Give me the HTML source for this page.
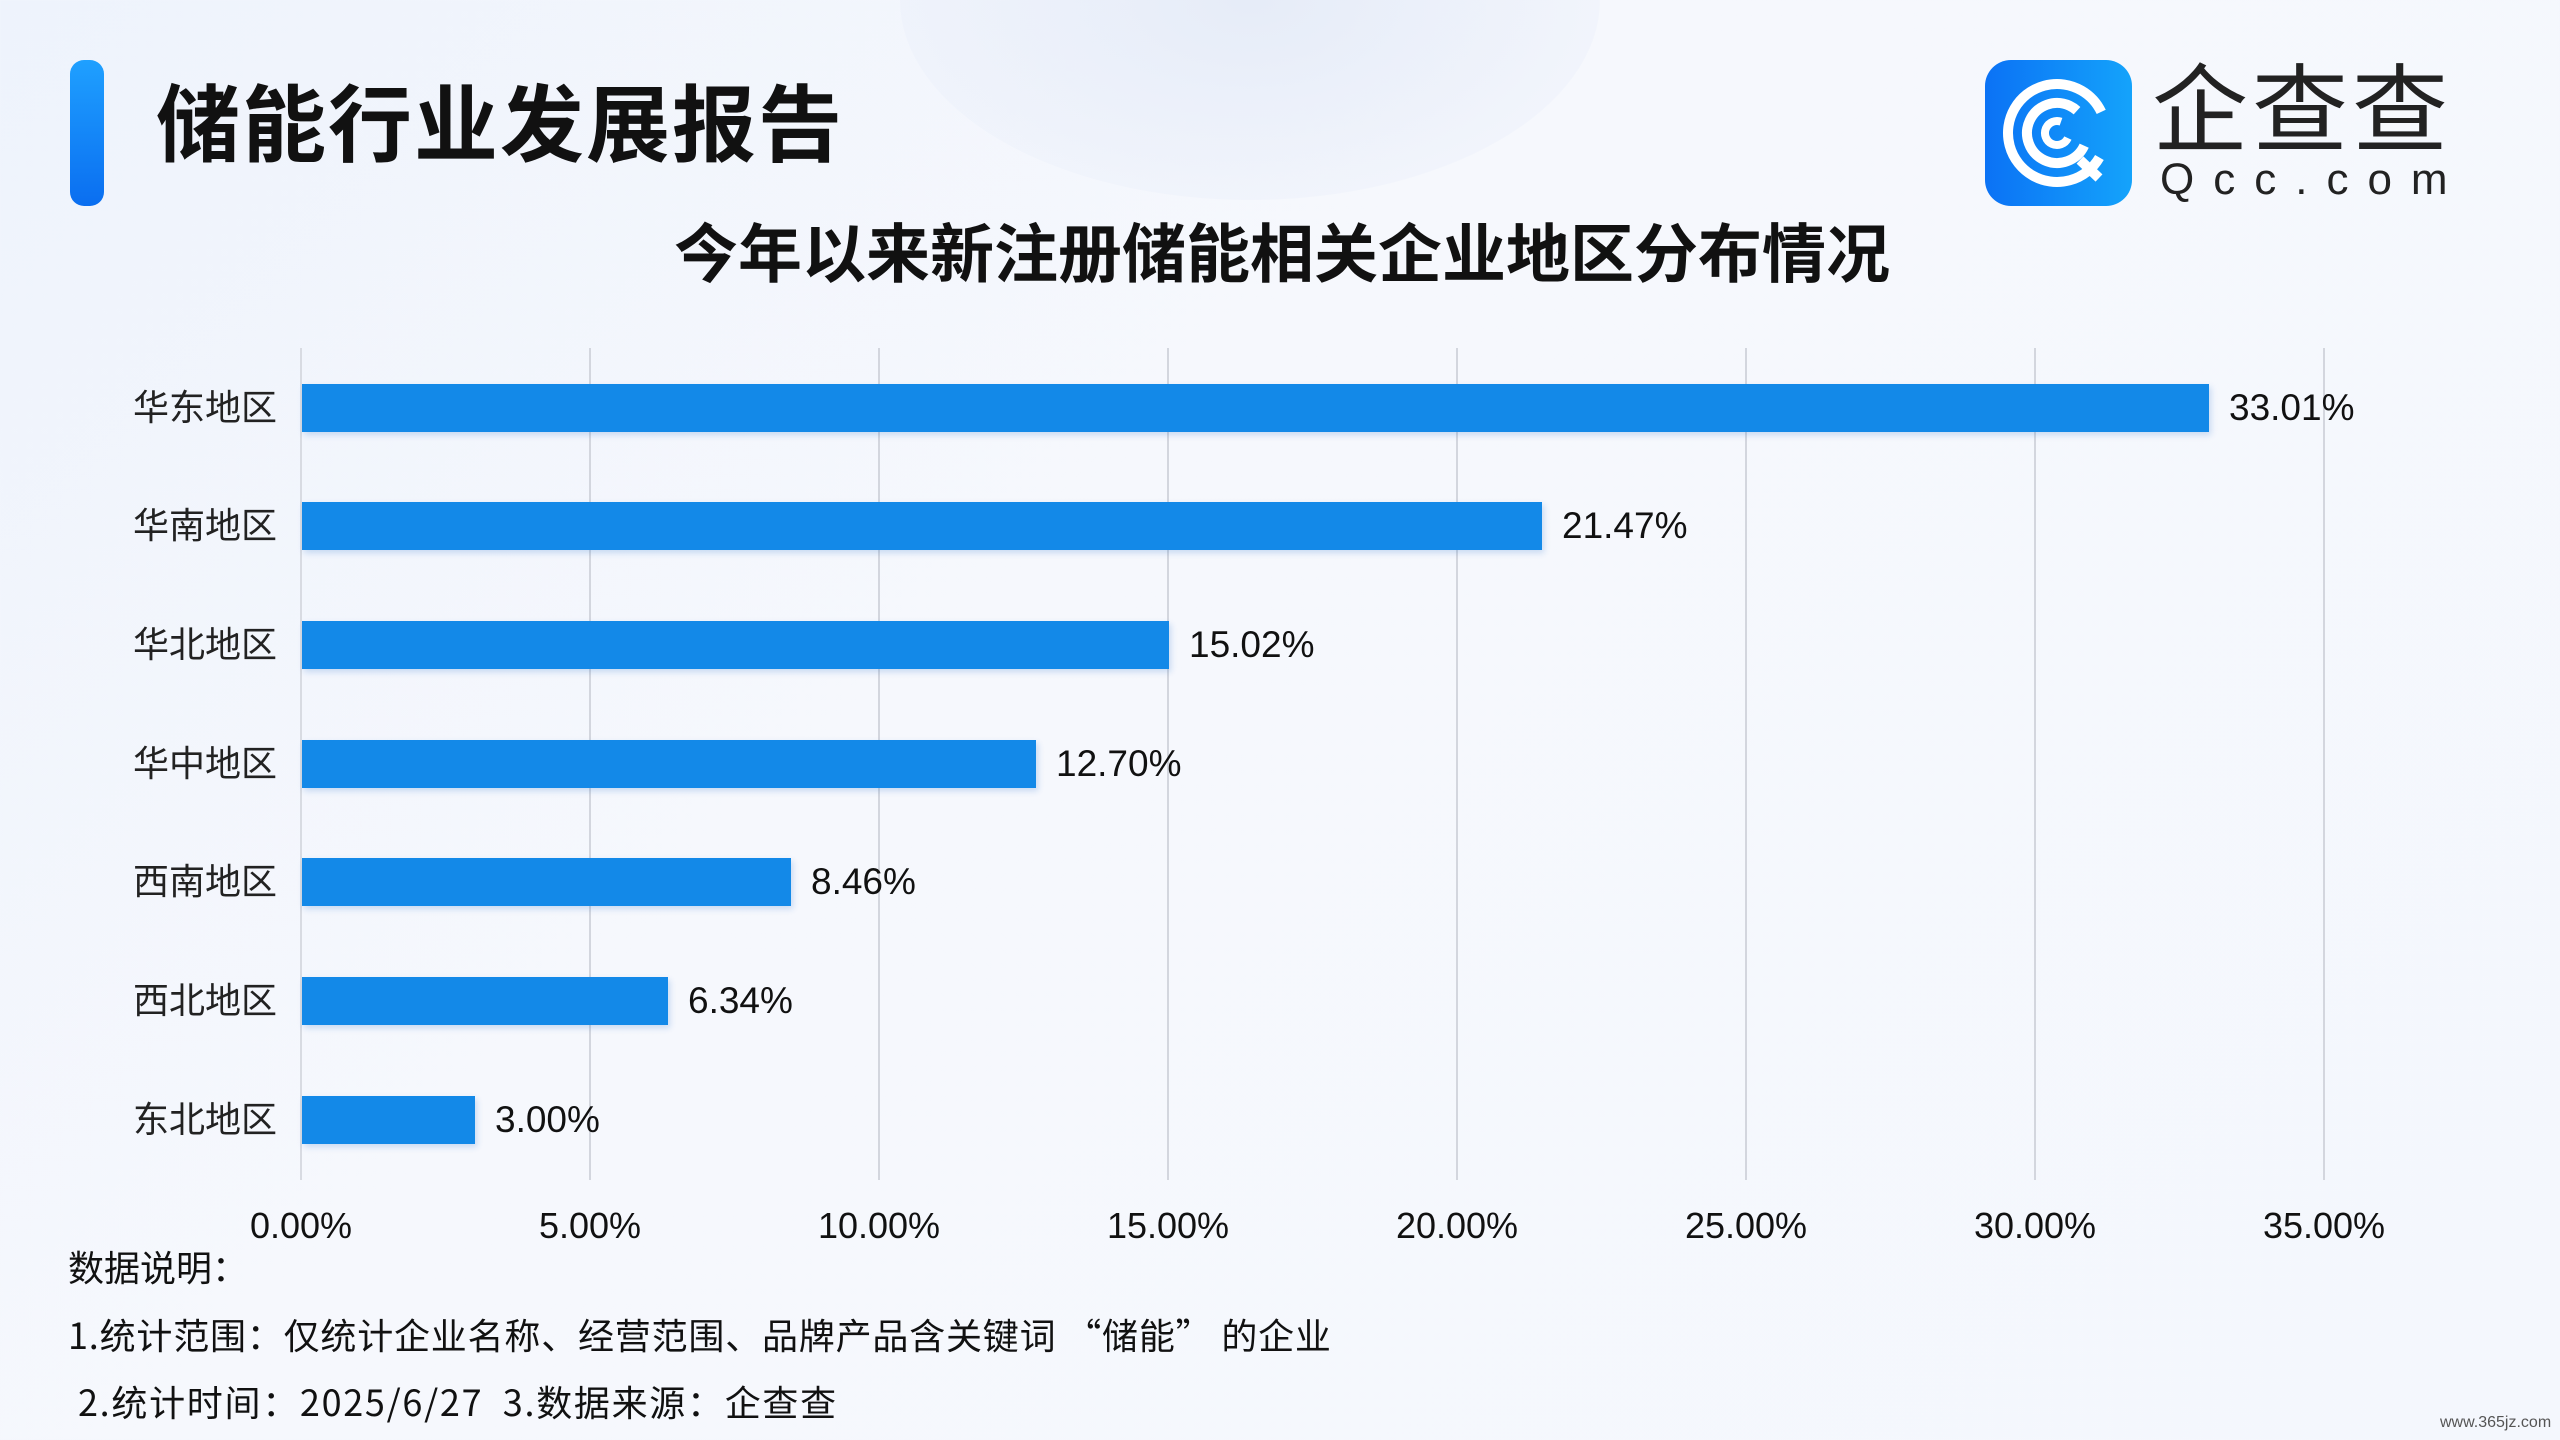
<!DOCTYPE html>
<html><head><meta charset="utf-8"><style>
body{margin:0;width:2560px;height:1440px;overflow:hidden;background:linear-gradient(135deg,#eef3fc 0%,#f6f8fd 40%,#f4f7fd 100%);font-family:"Liberation Sans","Noto Sans CJK SC",sans-serif;position:relative;color:#111}
.a{position:absolute;white-space:nowrap}
.cat{position:absolute;right:2283px;font-size:36px;color:#222;line-height:48px}
.bar{position:absolute;left:302px;height:48px;background:#1389e8;box-shadow:2px 3px 6px rgba(19,100,200,.2)}
.val{position:absolute;font-size:37px;color:#111;line-height:48px}
.g{position:absolute;top:348px;height:832px;width:2px;background:#d3d6de}
.t{position:absolute;top:1205px;font-size:36px;color:#111;transform:translateX(-50%)}
.n{position:absolute;font-size:36px;color:#111;font-family:"Noto Sans CJK SC",sans-serif;white-space:nowrap}
</style></head><body>
<div class="a" style="left:900px;top:-200px;width:700px;height:400px;border-radius:50%;background:radial-gradient(#e6ecf8,rgba(240,244,252,0));"></div>
<div class="a" style="left:70px;top:60px;width:34px;height:146px;border-radius:14px;background:linear-gradient(#1fa0ff,#0a6ef0)"></div>
<div class="a" style="left:156px;top:76px;font-size:84px;font-weight:bold;line-height:100px;letter-spacing:2px">储能行业发展报告</div>
<div class="a" style="left:1985px;top:60px;width:147px;height:146px;border-radius:26px;background:linear-gradient(90deg,#0b72f5,#14a3fb)">
<svg width="147" height="146" viewBox="0 0 147 146"><g fill="none" stroke="#fff" stroke-linecap="butt"><circle cx="72" cy="73" r="49" stroke-width="10" stroke-dasharray="260 48" transform="rotate(30 72 73)"/><circle cx="72" cy="73" r="30" stroke-width="10" stroke-dasharray="150 40" transform="rotate(25 72 73)"/><circle cx="72" cy="73" r="12" stroke-width="8" stroke-dasharray="55 20" transform="rotate(25 72 73)"/><line x1="95" y1="100" x2="114" y2="118" stroke-width="10"/></g></svg></div>
<div class="a" style="left:2152px;top:60px;font-size:96px;line-height:104px;color:#222;letter-spacing:4px">企查查</div>
<div class="a" style="left:2160px;top:156px;font-size:44px;line-height:48px;color:#222;letter-spacing:19px">Qcc.com</div>
<div class="a" style="left:0;width:2564px;text-align:center;top:216px;font-size:64px;font-weight:bold;line-height:78px">今年以来新注册储能相关企业地区分布情况</div>
<div class="g" style="left:300px;background:#d8dbe2"></div><div class="g" style="left:589px"></div><div class="g" style="left:878px"></div><div class="g" style="left:1167px"></div><div class="g" style="left:1456px"></div><div class="g" style="left:1745px"></div><div class="g" style="left:2034px"></div><div class="g" style="left:2323px"></div>
<div class="cat" style="top:384px">华东地区</div><div class="bar" style="top:384px;width:1907px"></div><div class="val" style="top:384px;left:2229px">33.01%</div>
<div class="cat" style="top:502px">华南地区</div><div class="bar" style="top:502px;width:1240px"></div><div class="val" style="top:502px;left:1562px">21.47%</div>
<div class="cat" style="top:621px">华北地区</div><div class="bar" style="top:621px;width:867px"></div><div class="val" style="top:621px;left:1189px">15.02%</div>
<div class="cat" style="top:740px">华中地区</div><div class="bar" style="top:740px;width:734px"></div><div class="val" style="top:740px;left:1056px">12.70%</div>
<div class="cat" style="top:858px">西南地区</div><div class="bar" style="top:858px;width:489px"></div><div class="val" style="top:858px;left:811px">8.46%</div>
<div class="cat" style="top:977px">西北地区</div><div class="bar" style="top:977px;width:366px"></div><div class="val" style="top:977px;left:688px">6.34%</div>
<div class="cat" style="top:1096px">东北地区</div><div class="bar" style="top:1096px;width:173px"></div><div class="val" style="top:1096px;left:495px">3.00%</div>
<div class="t" style="left:301px">0.00%</div><div class="t" style="left:590px">5.00%</div><div class="t" style="left:879px">10.00%</div><div class="t" style="left:1168px">15.00%</div><div class="t" style="left:1457px">20.00%</div><div class="t" style="left:1746px">25.00%</div><div class="t" style="left:2035px">30.00%</div><div class="t" style="left:2324px">35.00%</div>
<div class="n" style="left:68px;top:1240px;line-height:52px">数据说明：</div>
<div class="n" style="left:68px;top:1308px;line-height:52px;letter-spacing:0.8px">1.统计范围：仅统计企业名称、经营范围、品牌产品含关键词 “储能” 的企业</div>
<div class="n" style="left:78px;top:1375px;line-height:52px;letter-spacing:1.7px">2.统计时间：2025/6/27&nbsp; 3.数据来源：企查查</div>
<div class="a" style="left:2440px;top:1414px;font-size:16px;color:#555">www.365jz.com</div>
</body></html>
